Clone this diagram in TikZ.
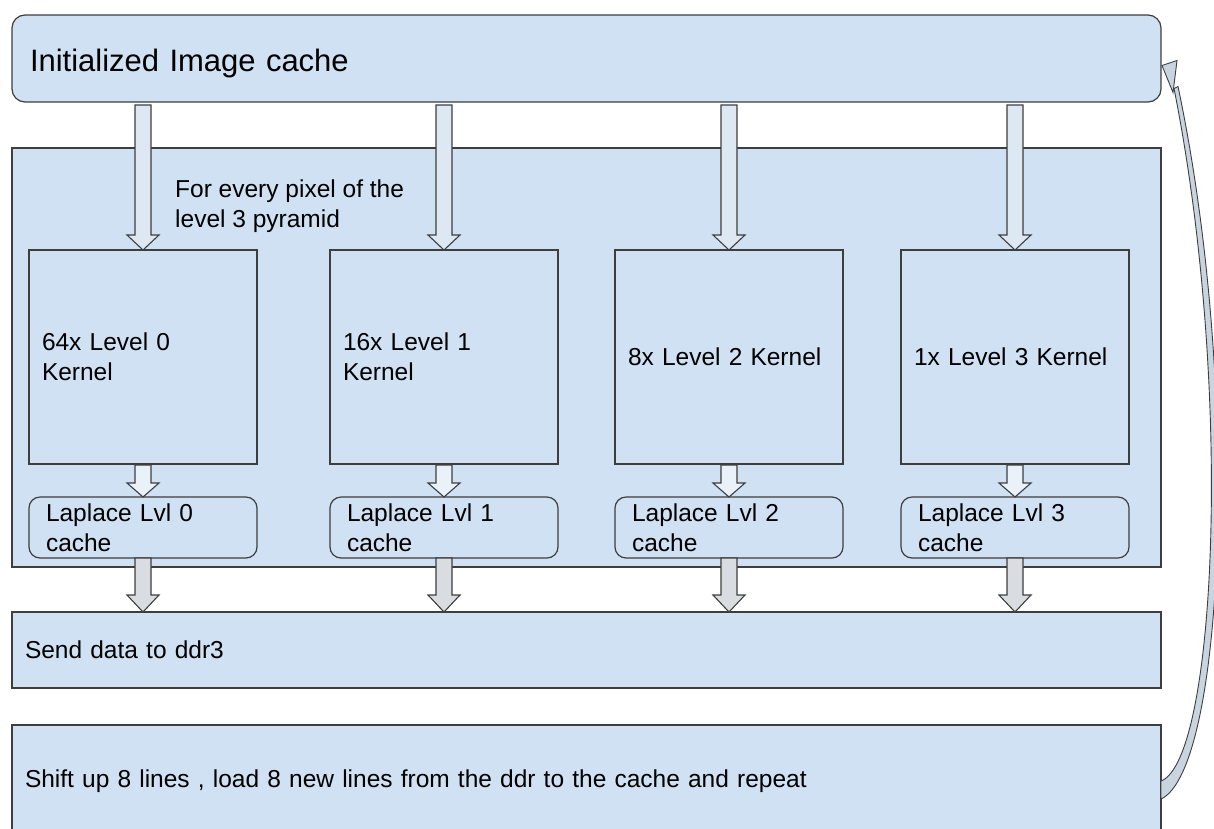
\documentclass[tikz,border=0pt]{standalone}
\usepackage{fontspec}
\setmainfont{Liberation Sans}
\usetikzlibrary{calc}

\definecolor{panel}{HTML}{CFE1F2}
\definecolor{edge}{HTML}{3E3E3E}
\definecolor{arrowtop}{HTML}{DDE8F3}
\definecolor{arrowmid}{HTML}{EAF1F8}
\definecolor{arrowlow}{HTML}{D9DDE1}
\definecolor{loopfill}{HTML}{C8D5E0}

\tikzset{
  panelbox/.style={draw=edge, fill=panel, line width=1.2pt, anchor=north west,
    inner ysep=0pt, outer sep=0pt, align=left},
  roundbox/.style={panelbox, rounded corners=11pt},
  kernelbox/.style={panelbox, minimum width=228pt, minimum height=214pt,
    inner xsep=13pt, text width=202pt},
  cachebox/.style={roundbox, minimum width=228pt, minimum height=61pt,
    inner xsep=17pt, text width=194pt},
  widebox/.style={panelbox, minimum width=1149pt, inner xsep=13pt, text width=1123pt},
  blockedge/.style={draw=edge, line width=1.1pt, line join=miter},
}

% Hollow block arrow pointing down: fill, start point, tip point, head length
\newcommand\blockdown[4]{%
  \filldraw[blockedge, fill=#1] let \p1=#2, \p2=#3 in
    (\x2-8pt,\y1) -- (\x2-8pt,\y2+#4) -- (\x2-16pt,\y2+#4) -- (\x2,\y2)
    -- (\x2+16pt,\y2+#4) -- (\x2+8pt,\y2+#4) -- (\x2+8pt,\y1) -- cycle;}

\begin{document}
\begin{tikzpicture}[x=1pt, y=-1pt, font=\fontsize{24.5}{30}\selectfont]
\useasboundingbox (0,0) rectangle (1214,828);

% image cache at the top
\node[roundbox, rounded corners=13pt, minimum width=1149pt, minimum height=87pt,
      inner xsep=18pt, text width=1113pt, text height=25pt, text depth=0pt,
      font=\fontsize{31}{36}\selectfont]
  (init) at (12,15) {Initialized Image cache};

% per-pixel processing stage
\node[panelbox, minimum width=1149pt, minimum height=419pt] (stage) at (12,148) {};
\node[anchor=north west, align=left, inner sep=0pt] (note) at (175,180)
  {For every pixel of the\\level 3 pyramid};

% pyramid kernels
\node[kernelbox] (k0) at (29,250)  {64x Level 0\\Kernel};
\node[kernelbox] (k1) at (330,250) {16x Level 1\\Kernel};
\node[kernelbox] (k2) at (615,250) {8x Level 2 Kernel};
\node[kernelbox] (k3) at (901,250) {1x Level 3 Kernel};

% laplace caches
\node[cachebox] (c0) at (29,497)  {Laplace Lvl 0\\cache};
\node[cachebox] (c1) at (330,497) {Laplace Lvl 1\\cache};
\node[cachebox] (c2) at (615,497) {Laplace Lvl 2\\cache};
\node[cachebox] (c3) at (901,497) {Laplace Lvl 3\\cache};

% output stages
\node[widebox, minimum height=76pt] (send) at (12,612) {Send data to ddr3};
\node[widebox, minimum height=113pt] (shift) at (12,725)
  {Shift up 8 lines , load 8 new lines from the ddr to the cache and repeat};

% data flow arrows
\foreach \k/\c in {k0/c0, k1/c1, k2/c2, k3/c3}{
  \blockdown{arrowtop}{($(init.south)+(0,3)$)}{(\k.north)}{15pt}
  \blockdown{arrowmid}{($(\k.south)+(0,1)$)}{(\c.north)}{14pt}
  \blockdown{arrowlow}{(\c.south)}{(send.north -| \c.south)}{17pt}
}

% loop back from the shift stage to the image cache
\coordinate (tailLow)  at ($(shift.east)+(0,17.5)$);
\coordinate (tailHigh) at ($(shift.east)+(0,-0.5)$);
\coordinate (tip)      at ($(init.east)+(1,7)$);
\coordinate (headA)    at ($(tip)+(15,-5)$);
\coordinate (headB)    at ($(tip)+(11,27)$);
\coordinate (neckOut)  at ($(tip)+(16,21)$);
\coordinate (neckIn)   at ($(tip)+(12,23)$);
\filldraw[blockedge, line width=0.9pt, fill=loopfill]
  (tailLow) .. controls (1224,770) and (1242,390) .. (neckOut)
  -- (neckIn) .. controls (1234,390) and (1216,760) .. (tailHigh) -- cycle;
\filldraw[blockedge, line width=0.9pt, fill=loopfill] (tip) -- (headA) -- (headB) -- cycle;
\end{tikzpicture}
\end{document}
